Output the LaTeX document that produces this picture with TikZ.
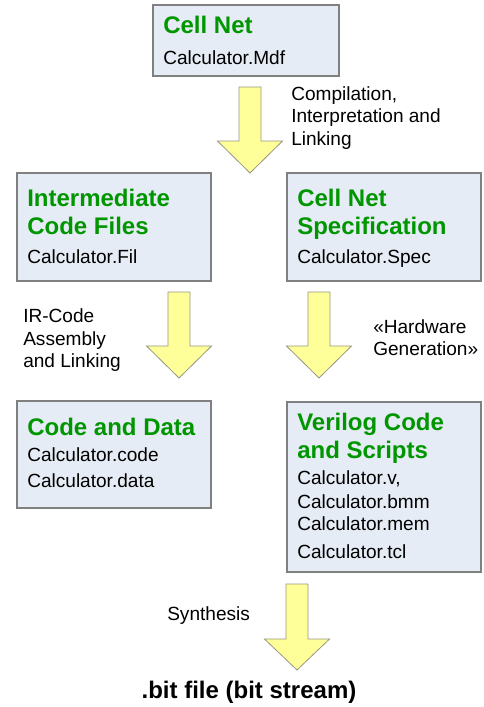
\documentclass[tikz,border=0pt]{standalone}
\usepackage{fontspec}
\setmainfont{Liberation Sans}
\usetikzlibrary{fit}
\definecolor{boxfill}{RGB}{230,236,245}
\definecolor{boxline}{RGB}{128,128,128}
\definecolor{headgreen}{RGB}{0,150,0}
\definecolor{arrowfill}{RGB}{255,255,153}
\definecolor{arrowline}{RGB}{150,150,130}
\tikzset{
  box/.style={draw=boxline, fill=boxfill, line width=0.8pt, inner sep=0pt},
  heading/.style={anchor=base west, inner sep=0pt, text=headgreen,
    font=\fontsize{18}{20}\selectfont\bfseries},
  body/.style={anchor=base west, inner sep=0pt,
    font=\fontsize{14.3}{16}\selectfont},
  result/.style={anchor=base, inner sep=0pt,
    font=\fontsize{18}{20}\selectfont\bfseries},
  blockarrow/.style={draw=arrowline, fill=arrowfill, line width=0.6pt, line join=miter}
}
% block arrow pointing down: centre x, top, start of head, tip
\newcommand\downblock[4]{%
  \draw[blockarrow] (#1-11,#2) -- (#1+11,#2) -- (#1+11,#3) -- (#1+32.5,#3)
    -- (#1,#4) -- (#1-32.5,#3) -- (#1-11,#3) -- cycle;}
\begin{document}
\begin{tikzpicture}[x=0.75pt,y=-0.75pt]
\useasboundingbox (0,0) rectangle (483,707);

% boxes
\node[box, fit={(153,5) (339,76)}] (cellnet) {};
\node[box, fit={(17,173) (211,281)}] (inter) {};
\node[box, fit={(287,173) (481,281)}] (spec) {};
\node[box, fit={(17,401) (211,508)}] (code) {};
\node[box, fit={(287,402) (481,572)}] (verilog) {};

% box texts
\node[heading] (h1) at (163,33) {Cell Net};
\node[body] (b1) at (163,64) {Calculator.Mdf};

\node[heading] (h2a) at (27,206) {Intermediate};
\node[heading] (h2b) at (27,234) {Code Files};
\node[body] (b2) at (27,263) {Calculator.Fil};

\node[heading] (h3a) at (297,206) {Cell Net};
\node[heading] (h3b) at (297,234) {Specification};
\node[body] (b3) at (297,263) {Calculator.Spec};

\node[heading] (h4) at (27,435) {Code and Data};
\node[body] (b4a) at (27,461) {Calculator.code};
\node[body] (b4b) at (27,487) {Calculator.data};

\node[heading] (h5a) at (297,430) {Verilog Code};
\node[heading] (h5b) at (297,458) {and Scripts};
\node[body] (b5a) at (297,484) {Calculator.v,};
\node[body] (b5b) at (297,508) {Calculator.bmm};
\node[body] (b5c) at (297,530) {Calculator.mem};
\node[body] (b5d) at (297,558) {Calculator.tcl};

% block arrows
\downblock{250}{87}{141}{173}
\downblock{179}{292}{346}{378}
\downblock{319}{292}{346}{378}
\downblock{297}{584}{639}{670}

% step labels
\node[body] (l1a) at (291,100) {Compilation,};
\node[body] (l1b) at (291,122) {Interpretation and};
\node[body] (l1c) at (291,145) {Linking};

\node[body] (l2a) at (23,322) {IR-Code};
\node[body] (l2b) at (23,345) {Assembly};
\node[body] (l2c) at (23,367) {and Linking};

\node[body] (l3a) at (373,333) {«Hardware};
\node[body] (l3b) at (373,355) {Generation»};

\node[body] (l4) at (167,620) {Synthesis};

\node[result] (bit) at (249,698) {.bit file (bit stream)};
\end{tikzpicture}
\end{document}
